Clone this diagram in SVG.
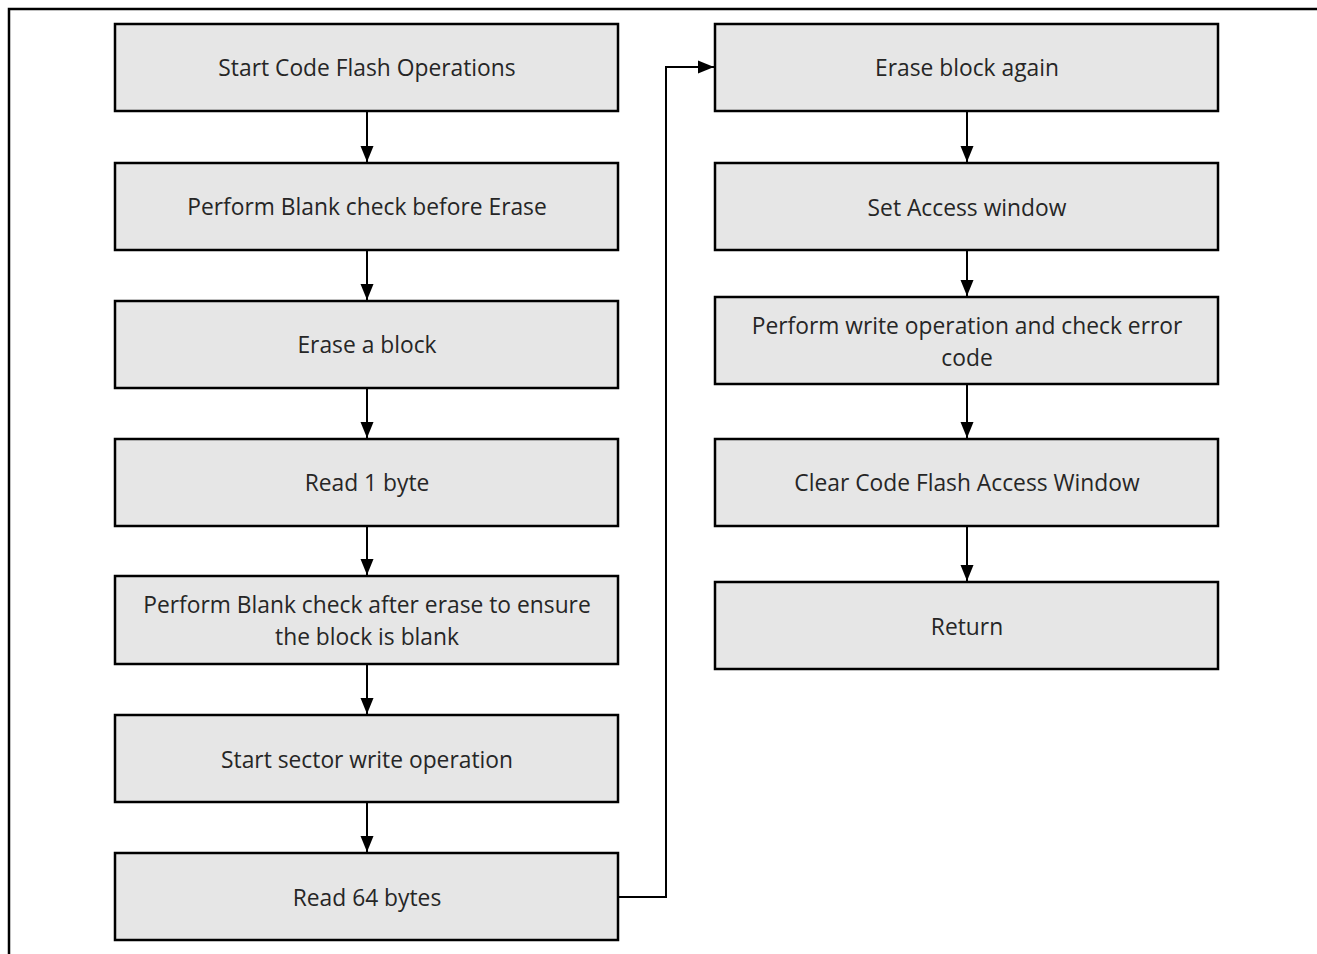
<svg xmlns="http://www.w3.org/2000/svg" width="1317" height="954" viewBox="0 0 1317 954">
<style>
.box{fill:#e6e6e6;stroke:#000;stroke-width:2.5}
.t{font-family:"Open Sans","Liberation Sans",sans-serif;font-size:22.8px;fill:#262626;text-anchor:middle}
.c{fill:none;stroke:#000;stroke-width:2}
</style>
<defs>
<marker id="ad" markerWidth="16" markerHeight="16" refX="16" refY="8" orient="auto" markerUnits="userSpaceOnUse" viewBox="0 0 16 16"><path d="M0,1.5 L16,8 L0,14.5 Z" fill="#000"/></marker>
</defs>
<path d="M9,954 V9 H1317" fill="none" stroke="#000" stroke-width="2.5"/>
<g id="n1"><rect class="box" x="115" y="24" width="503" height="87"/><text class="t" x="367" y="76">Start Code Flash Operations</text></g>
<g id="n2"><rect class="box" x="115" y="163" width="503" height="87"/><text class="t" x="367" y="215">Perform Blank check before Erase</text></g>
<g id="n3"><rect class="box" x="115" y="301" width="503" height="87"/><text class="t" x="367" y="353">Erase a block</text></g>
<g id="n4"><rect class="box" x="115" y="439" width="503" height="87"/><text class="t" x="367" y="491">Read 1 byte</text></g>
<g id="n5"><rect class="box" x="115" y="576" width="503" height="88"/><text class="t" x="367" y="613">Perform Blank check after erase to ensure</text><text class="t" x="367" y="645">the block is blank</text></g>
<g id="n6"><rect class="box" x="115" y="715" width="503" height="87"/><text class="t" x="367" y="768">Start sector write operation</text></g>
<g id="n7"><rect class="box" x="115" y="853" width="503" height="87"/><text class="t" x="367" y="906">Read 64 bytes</text></g>
<g id="n8"><rect class="box" x="715" y="24" width="503" height="87"/><text class="t" x="967" y="76">Erase block again</text></g>
<g id="n9"><rect class="box" x="715" y="163" width="503" height="87"/><text class="t" x="967" y="216">Set Access window</text></g>
<g id="n10"><rect class="box" x="715" y="297" width="503" height="87"/><text class="t" x="967" y="334">Perform write operation and check error</text><text class="t" x="967" y="366">code</text></g>
<g id="n11"><rect class="box" x="715" y="439" width="503" height="87"/><text class="t" x="967" y="491">Clear Code Flash Access Window</text></g>
<g id="n12"><rect class="box" x="715" y="582" width="503" height="87"/><text class="t" x="967" y="635">Return</text></g>
<g id="connectors">
<line class="c" x1="367" y1="111" x2="367" y2="162" marker-end="url(#ad)"/>
<line class="c" x1="367" y1="250" x2="367" y2="300" marker-end="url(#ad)"/>
<line class="c" x1="367" y1="388" x2="367" y2="438" marker-end="url(#ad)"/>
<line class="c" x1="367" y1="526" x2="367" y2="575" marker-end="url(#ad)"/>
<line class="c" x1="367" y1="664" x2="367" y2="714" marker-end="url(#ad)"/>
<line class="c" x1="367" y1="802" x2="367" y2="852" marker-end="url(#ad)"/>
<path class="c" d="M618,897 H666 V67 H714" marker-end="url(#ad)"/>
<line class="c" x1="967" y1="111" x2="967" y2="162" marker-end="url(#ad)"/>
<line class="c" x1="967" y1="250" x2="967" y2="296" marker-end="url(#ad)"/>
<line class="c" x1="967" y1="384" x2="967" y2="438" marker-end="url(#ad)"/>
<line class="c" x1="967" y1="526" x2="967" y2="581" marker-end="url(#ad)"/>
</g>
</svg>
